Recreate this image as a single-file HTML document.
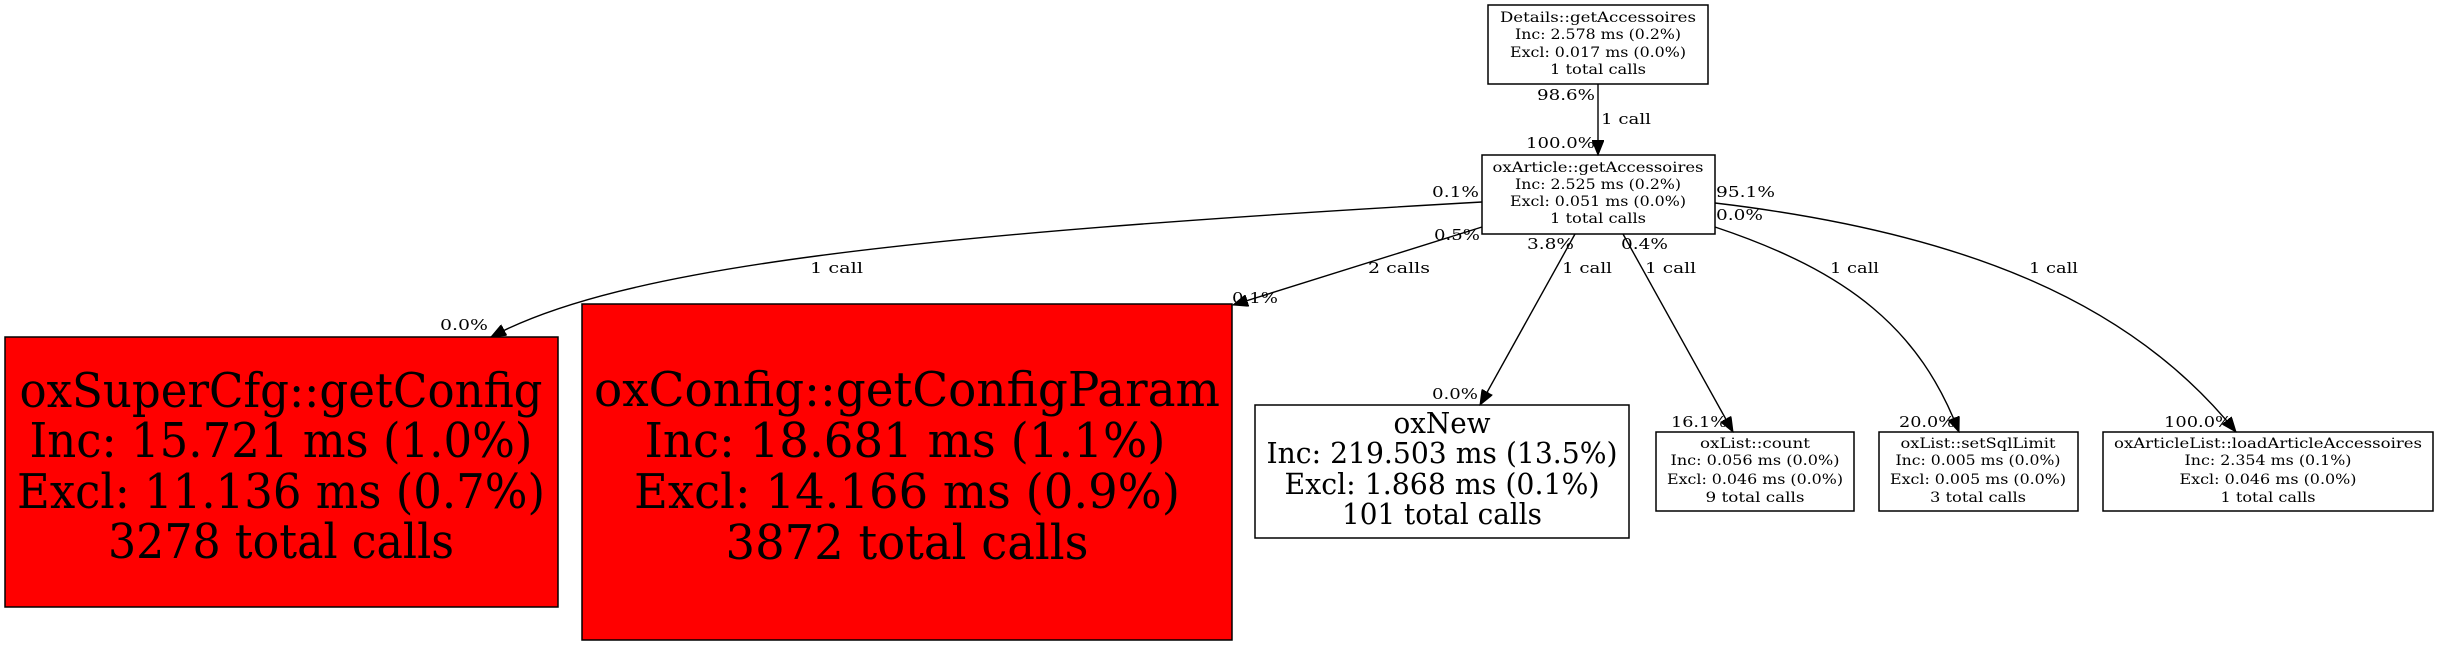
<!DOCTYPE html>
<html><head><meta charset="utf-8"><style>
html,body{margin:0;padding:0;background:#fff;}
svg{display:block;}
text{font-family:"DejaVu Serif","Liberation Serif",serif;fill:#000;}
.s{font-size:14px;}
.e{font-size:15px;}
.m{font-size:29px;font-family:"Liberation Serif","DejaVu Serif",serif;}
.b{font-size:48px;font-family:"Liberation Serif","DejaVu Serif",serif;}
rect{stroke:#000;stroke-width:1.5;}
path{fill:none;stroke:#000;stroke-width:1.4;}
</style></head><body>
<svg width="2439" height="645" viewBox="0 0 2439 645" xmlns="http://www.w3.org/2000/svg">
<defs><marker id="a" markerUnits="userSpaceOnUse" markerWidth="16" markerHeight="12" refX="15" refY="6" orient="auto"><path d="M0,0 L15,6 L0,12 Z" style="fill:#000;stroke:#000;stroke-width:1"/></marker></defs>
<rect x="0" y="0" width="2439" height="645" fill="#fff" style="stroke:none"/>

<!-- Details -->
<rect x="1488" y="5" width="220" height="79" fill="#fff"/>
<g text-anchor="middle" class="s">
<text x="1598" y="22" textLength="196" lengthAdjust="spacingAndGlyphs">Details::getAccessoires</text>
<text x="1598" y="39" textLength="166" lengthAdjust="spacingAndGlyphs">Inc: 2.578 ms (0.2%)</text>
<text x="1598" y="57" textLength="176" lengthAdjust="spacingAndGlyphs">Excl: 0.017 ms (0.0%)</text>
<text x="1598" y="74" textLength="96" lengthAdjust="spacingAndGlyphs">1 total calls</text>
</g>

<!-- oxArticle -->
<rect x="1482" y="155" width="233" height="79" fill="#fff"/>
<g text-anchor="middle" class="s">
<text x="1598" y="172" textLength="211" lengthAdjust="spacingAndGlyphs">oxArticle::getAccessoires</text>
<text x="1598" y="189" textLength="166" lengthAdjust="spacingAndGlyphs">Inc: 2.525 ms (0.2%)</text>
<text x="1598" y="206" textLength="176" lengthAdjust="spacingAndGlyphs">Excl: 0.051 ms (0.0%)</text>
<text x="1598" y="223" textLength="96" lengthAdjust="spacingAndGlyphs">1 total calls</text>
</g>

<!-- oxSuperCfg -->
<rect x="5" y="337" width="553" height="270" fill="#ff0000"/>
<g text-anchor="middle" class="b">
<text x="281" y="407" textLength="523" lengthAdjust="spacingAndGlyphs">oxSuperCfg::getConfig</text>
<text x="281" y="457" textLength="503" lengthAdjust="spacingAndGlyphs">Inc: 15.721 ms (1.0%)</text>
<text x="281" y="508" textLength="528" lengthAdjust="spacingAndGlyphs">Excl: 11.136 ms (0.7%)</text>
<text x="281" y="558" textLength="346" lengthAdjust="spacingAndGlyphs">3278 total calls</text>
</g>

<!-- oxConfig -->
<rect x="582" y="304" width="650" height="336" fill="#ff0000"/>
<g text-anchor="middle" class="b">
<text x="907" y="406" textLength="626" lengthAdjust="spacingAndGlyphs">oxConfig::getConfigParam</text>
<text x="905" y="457" textLength="521" lengthAdjust="spacingAndGlyphs">Inc: 18.681 ms (1.1%)</text>
<text x="907" y="508" textLength="546" lengthAdjust="spacingAndGlyphs">Excl: 14.166 ms (0.9%)</text>
<text x="907" y="559" textLength="363" lengthAdjust="spacingAndGlyphs">3872 total calls</text>
</g>

<!-- oxNew -->
<rect x="1255" y="405" width="374" height="133" fill="#fff"/>
<g text-anchor="middle" class="m">
<text x="1442" y="433" textLength="97" lengthAdjust="spacingAndGlyphs">oxNew</text>
<text x="1442" y="463" textLength="351" lengthAdjust="spacingAndGlyphs">Inc: 219.503 ms (13.5%)</text>
<text x="1442" y="494" textLength="315" lengthAdjust="spacingAndGlyphs">Excl: 1.868 ms (0.1%)</text>
<text x="1442" y="524" textLength="200" lengthAdjust="spacingAndGlyphs">101 total calls</text>
</g>

<!-- oxList::count -->
<rect x="1656" y="432" width="198" height="79" fill="#fff"/>
<g text-anchor="middle" class="s">
<text x="1755" y="448" textLength="110" lengthAdjust="spacingAndGlyphs">oxList::count</text>
<text x="1755" y="465" textLength="169" lengthAdjust="spacingAndGlyphs">Inc: 0.056 ms (0.0%)</text>
<text x="1755" y="484" textLength="176" lengthAdjust="spacingAndGlyphs">Excl: 0.046 ms (0.0%)</text>
<text x="1755" y="502" textLength="99" lengthAdjust="spacingAndGlyphs">9 total calls</text>
</g>

<!-- setSqlLimit -->
<rect x="1879" y="432" width="199" height="79" fill="#fff"/>
<g text-anchor="middle" class="s">
<text x="1978" y="448" textLength="155" lengthAdjust="spacingAndGlyphs">oxList::setSqlLimit</text>
<text x="1978" y="465" textLength="165" lengthAdjust="spacingAndGlyphs">Inc: 0.005 ms (0.0%)</text>
<text x="1978" y="484" textLength="176" lengthAdjust="spacingAndGlyphs">Excl: 0.005 ms (0.0%)</text>
<text x="1978" y="502" textLength="96" lengthAdjust="spacingAndGlyphs">3 total calls</text>
</g>

<!-- loadArticleAccessoires -->
<rect x="2103" y="432" width="330" height="79" fill="#fff"/>
<g text-anchor="middle" class="s">
<text x="2268" y="448" textLength="308" lengthAdjust="spacingAndGlyphs">oxArticleList::loadArticleAccessoires</text>
<text x="2268" y="465" textLength="167" lengthAdjust="spacingAndGlyphs">Inc: 2.354 ms (0.1%)</text>
<text x="2268" y="484" textLength="177" lengthAdjust="spacingAndGlyphs">Excl: 0.046 ms (0.0%)</text>
<text x="2268" y="502" textLength="95" lengthAdjust="spacingAndGlyphs">1 total calls</text>
</g>

<!-- edges -->
<path d="M1598,84 L1598,155" marker-end="url(#a)"/>
<path d="M1482,202 C900,235 620,268 491,337" marker-end="url(#a)"/>
<path d="M1482,227 L1233,305" marker-end="url(#a)"/>
<path d="M1575,234 L1480,405" marker-end="url(#a)"/>
<path d="M1623,234 L1733,432" marker-end="url(#a)"/>
<path d="M1715,227 C1850,272 1920,330 1959,432" marker-end="url(#a)"/>
<path d="M1715,203 C1960,232 2130,300 2236,432" marker-end="url(#a)"/>

<!-- edge labels -->
<g class="e">
<text x="1537" y="100" textLength="58" lengthAdjust="spacingAndGlyphs">98.6%</text>
<text x="1601" y="124" textLength="50" lengthAdjust="spacingAndGlyphs">1 call</text>
<text x="1526" y="148" textLength="69" lengthAdjust="spacingAndGlyphs">100.0%</text>
<text x="1432" y="197" textLength="47" lengthAdjust="spacingAndGlyphs">0.1%</text>
<text x="1716" y="197" textLength="59" lengthAdjust="spacingAndGlyphs">95.1%</text>
<text x="1716" y="220" textLength="47" lengthAdjust="spacingAndGlyphs">0.0%</text>
<text x="1434" y="240" textLength="46" lengthAdjust="spacingAndGlyphs">0.5%</text>
<text x="1527" y="249" textLength="47" lengthAdjust="spacingAndGlyphs">3.8%</text>
<text x="1621" y="249" textLength="47" lengthAdjust="spacingAndGlyphs">0.4%</text>
<text x="810" y="273" textLength="53" lengthAdjust="spacingAndGlyphs">1 call</text>
<text x="1368" y="273" textLength="62" lengthAdjust="spacingAndGlyphs">2 calls</text>
<text x="1562" y="273" textLength="50" lengthAdjust="spacingAndGlyphs">1 call</text>
<text x="1645" y="273" textLength="51" lengthAdjust="spacingAndGlyphs">1 call</text>
<text x="1830" y="273" textLength="49" lengthAdjust="spacingAndGlyphs">1 call</text>
<text x="2029" y="273" textLength="49" lengthAdjust="spacingAndGlyphs">1 call</text>
<text x="1232" y="303" textLength="46" lengthAdjust="spacingAndGlyphs">0.1%</text>
<text x="440" y="330" textLength="48" lengthAdjust="spacingAndGlyphs">0.0%</text>
<text x="1432" y="399" textLength="46" lengthAdjust="spacingAndGlyphs">0.0%</text>
<text x="1671" y="427" textLength="56" lengthAdjust="spacingAndGlyphs">16.1%</text>
<text x="1899" y="427" textLength="56" lengthAdjust="spacingAndGlyphs">20.0%</text>
<text x="2164" y="427" textLength="68" lengthAdjust="spacingAndGlyphs">100.0%</text>
</g>
</svg>
</body></html>
